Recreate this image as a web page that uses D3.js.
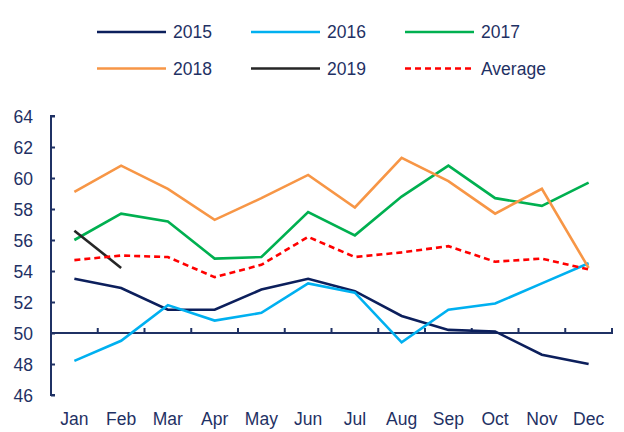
<!DOCTYPE html>
<html><head><meta charset="utf-8">
<script src="https://cdn.jsdelivr.net/npm/d3@7"></script>
<style>body{margin:0;background:#fff}svg{display:block}text{font-family:"Liberation Sans",Arial,sans-serif}</style>
</head><body><svg id="c" width="624" height="432"></svg>
<script>
const months = ["Jan","Feb","Mar","Apr","May","Jun","Jul","Aug","Sep","Oct","Nov","Dec"];
const yTicks = [46,48,50,52,54,56,58,60,62,64];
const s2015 = [53.5,52.9,51.5,51.5,52.8,53.5,52.7,51.1,50.2,50.1,48.6,48.0];
const s2016 = [48.2,49.5,51.8,50.8,51.3,53.2,52.6,49.4,51.5,51.9,53.2,54.5];
const s2017 = [56.0,57.7,57.2,54.8,54.9,57.8,56.3,58.8,60.8,58.7,58.2,59.7];
const s2018 = [59.1,60.8,59.3,57.3,58.7,60.2,58.1,61.3,59.8,57.7,59.3,54.2];
const s2019 = [56.6,54.2];
const sAvg  = [54.7,55.0,54.9,53.6,54.4,56.2,54.9,55.2,55.6,54.6,54.8,54.1];
const seriesNames = ["2015","2016","2017","2018","2019","Average"];

const series = [
  {name:seriesNames[0], values:s2015, color:"#0c1f5c", dash:null},
  {name:seriesNames[1], values:s2016, color:"#00b0f0", dash:null},
  {name:seriesNames[2], values:s2017, color:"#00b050", dash:null},
  {name:seriesNames[3], values:s2018, color:"#f79646", dash:null},
  {name:seriesNames[4], values:s2019, color:"#262626", dash:null},
  {name:seriesNames[5], values:sAvg, color:"#ff0000", dash:"6,4"}
];
const axisColor = "#1f3164";
const fs = "17.5px";
const svg = d3.select("#c");
const x = d3.scaleBand().domain(months).range([51,612]);
const y = d3.scaleLinear().domain([46,64]).range([395,116]);

// y axis
const ya = svg.append("g").attr("transform","translate(51,0)")
  .call(d3.axisRight(y).tickValues(yTicks).tickSize(4).tickFormat(d=>d));
ya.select(".domain").attr("stroke",axisColor).attr("stroke-width",2).attr("d","M4,116H0V395H4");
ya.selectAll(".tick line").attr("stroke",axisColor).attr("stroke-width",2);
ya.selectAll(".tick text").attr("x",-18).attr("text-anchor","end").attr("fill",axisColor)
  .style("font-size",fs).attr("dy","0.35em");

// x axis at 50
const xa = svg.append("g").attr("transform",`translate(0,${y(50)})`)
  .call(d3.axisTop(x).tickSize(0).tickFormat(""));
xa.select(".domain").attr("stroke",axisColor).attr("stroke-width",2).attr("d","M51,0H612V-5");
xa.selectAll(".tick").remove();
const xtickPos = months.slice(1).map(m=>x(m)).concat([x.range()[1]]);
xa.selectAll("line.xt").data(xtickPos).enter().append("line")
  .attr("x1",d=>d).attr("x2",d=>d).attr("y1",0).attr("y2",-5)
  .attr("stroke",axisColor).attr("stroke-width",2);

svg.append("g").selectAll("text").data(months).enter().append("text")
  .attr("x",d=>x(d)+x.bandwidth()/2).attr("y",425).attr("text-anchor","middle")
  .attr("fill",axisColor).style("font-size",fs).text(d=>d);

const line = d3.line().x((d,i)=>x(months[i])+x.bandwidth()/2).y(d=>y(d));
svg.append("g").selectAll("path").data(series).enter().append("path")
  .attr("d",d=>line(d.values)).attr("fill","none").attr("stroke",d=>d.color)
  .attr("stroke-width",2.6).attr("stroke-dasharray",d=>d.dash);

// legend
const lg = svg.append("g");
series.forEach((s,i)=>{
  const col = i%3, row = Math.floor(i/3);
  const lx = 97 + col*154, ly = 32 + row*36.5;
  lg.append("line").attr("x1",lx).attr("x2",lx+69).attr("y1",ly).attr("y2",ly)
    .attr("stroke",s.color).attr("stroke-width",2.6).attr("stroke-dasharray",s.dash);
  lg.append("text").attr("x",lx+76).attr("y",ly).attr("dy","0.35em")
    .attr("fill",axisColor).style("font-size",fs).text(s.name);
});
</script></body></html>
